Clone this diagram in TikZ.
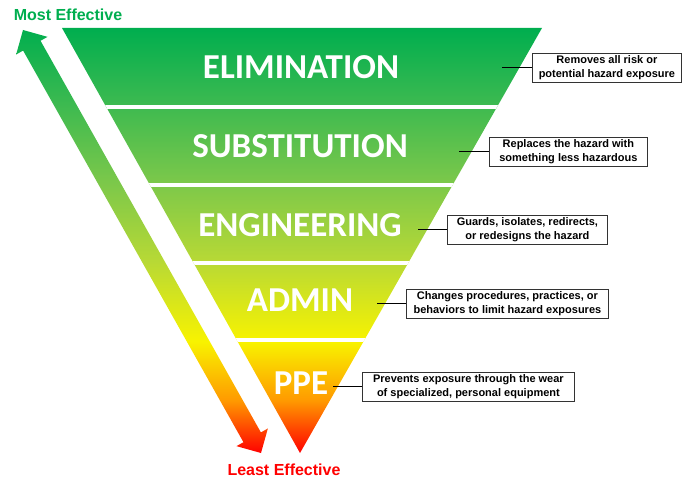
\documentclass[tikz,border=0pt]{standalone}
\usepackage{fontspec}
\setmainfont{Liberation Sans}
\newfontfamily\bandfont{Carlito}
\usetikzlibrary{calc,positioning}

\definecolor{hzGreen}{HTML}{00AE4F}
\definecolor{hzMid}{HTML}{3DBA50}
\definecolor{hzLight}{HTML}{7CC84A}
\definecolor{hzLime}{HTML}{B8D935}
\definecolor{hzYellow}{HTML}{F8F300}
\definecolor{hzOrange}{HTML}{FF9A00}
\definecolor{hzRed}{HTML}{FF0000}

\pgfdeclareverticalshading{hazard}{100bp}{color(0bp)=(hzRed); color(27.9bp)=(hzRed);
  color(33.4bp)=(hzOrange); color(39.5bp)=(hzYellow); color(47.8bp)=(hzLime);
  color(56bp)=(hzLight); color(64.1bp)=(hzMid); color(72.1bp)=(hzGreen); color(100bp)=(hzGreen)}

\begin{document}
\begin{tikzpicture}[x=1pt,y=-1pt,
        band/.style={text=white,inner sep=0pt,font=\bandfont\bfseries\fontsize{35}{35}\selectfont},
        note/.style={draw=black!80,line width=0.8pt,fill=white,align=center,anchor=west,
          inner xsep=4pt,inner ysep=2.5pt,minimum height=29pt,font=\bfseries\fontsize{11}{13.5}\selectfont},
        ends/.style={inner sep=0pt,font=\bfseries\fontsize{16}{16}\selectfont}]

        \useasboundingbox (0,0) rectangle (684,481);

        % the triangle
        \coordinate (tl) at (62,28);
        \coordinate (tr) at (542,28);
        \coordinate (apex) at (300,453);
        \begin{scope}
          \clip (tl) -- (tr) -- (apex) -- cycle;
          \shade[shading=hazard] (0,0) rectangle (684,481);
          \foreach \y in {107,185,263,340}
            \draw[white,line width=4pt] (0,\y) -- (684,\y);
        \end{scope}

        % the double arrow
        \coordinate (top) at (23,30);
        \coordinate (bot) at (261,453);
        \coordinate (topneck) at ($(top)!18pt!(bot)$);
        \coordinate (botneck) at ($(bot)!18pt!(top)$);
        \begin{scope}
          \clip (top) -- ($(topneck)!18pt!90:(bot)$) -- ($(topneck)!10pt!90:(bot)$)
            -- ($(botneck)!10pt!-90:(top)$) -- ($(botneck)!18pt!-90:(top)$) -- (bot)
            -- ($(botneck)!18pt!90:(top)$) -- ($(botneck)!10pt!90:(top)$)
            -- ($(topneck)!10pt!-90:(bot)$) -- ($(topneck)!18pt!-90:(bot)$) -- cycle;
          \shade[shading=hazard] (0,0) rectangle (684,481);
        \end{scope}

        \node[ends,text=hzGreen] (most) at (68,15) {Most Effective};
        \node[ends,text=hzRed] (least) at (284,470) {Least Effective};

        \node[band] (elim) at (301,67) {ELIMINATION};
        \node[band] (subst) at (300,146) {SUBSTITUTION};
        \node[band] (eng) at (300,225) {ENGINEERING};
        \node[band] (admin) at (300,300) {ADMIN};
        \node[band] (ppe) at (301,383) {PPE};

        \node[note,minimum width=149pt] (elimNote) at (532,67.5) {Removes all risk or\\potential hazard exposure};
        \node[note,minimum width=158pt] (substNote) at (489,151.5) {Replaces the hazard with\\something less hazardous};
        \node[note,minimum width=160pt] (engNote) at (447,229.5) {Guards, isolates, redirects,\\or redesigns the hazard};
        \node[note,minimum width=202pt] (adminNote) at (406,303.5) {Changes procedures, practices, or\\behaviors to limit hazard exposures};
        \node[note,minimum width=212pt] (ppeNote) at (362,386.5) {Prevents exposure through the wear\\of specialized, personal equipment};

        \coordinate (elimTick) at (502,67.5);
        \coordinate (substTick) at (459,151.5);
        \coordinate (engTick) at (418,229.5);
        \coordinate (adminTick) at (377,303.5);
        \coordinate (ppeTick) at (333,386.5);

        \draw (elimTick) -- (elimNote);
        \draw (substTick) -- (substNote);
        \draw (engTick) -- (engNote);
        \draw (adminTick) -- (adminNote);
        \draw (ppeTick) -- (ppeNote);
\end{tikzpicture}
\end{document}
